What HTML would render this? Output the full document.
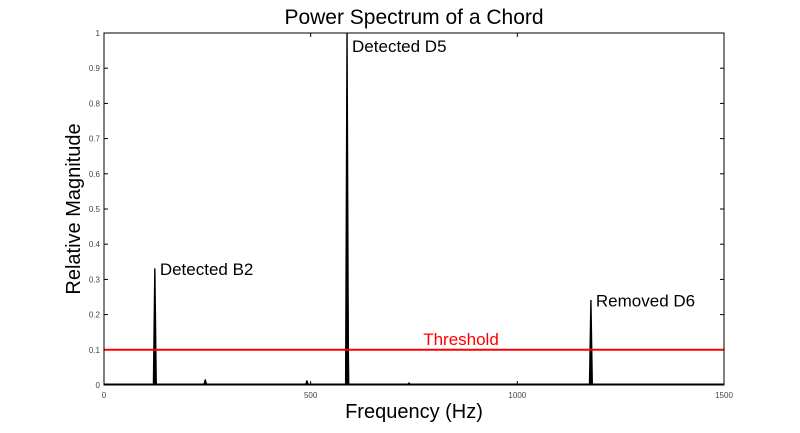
<!DOCTYPE html>
<html><head><meta charset="utf-8"><style>
html,body{margin:0;padding:0;background:#fff;}
svg{display:block;font-family:"Liberation Sans",Arial,sans-serif;}
</style></head><body>
<svg id="chart" width="800" height="433">
<text x="414" y="24" text-anchor="middle" font-size="21">Power Spectrum of a Chord</text>
<text x="414" y="418" text-anchor="middle" font-size="20">Frequency (Hz)</text>
<text transform="translate(80,209) rotate(-90)" text-anchor="middle" font-size="20">Relative Magnitude</text>
<g id="ticks"></g>
<g id="marks"></g>
<rect x="104" y="33" width="620" height="352" fill="none" stroke="#000" stroke-width="1"/>
</svg>
<script>
const xTicks = [0, 500, 1000, 1500];
const yTicks = [0, 0.1, 0.2, 0.3, 0.4, 0.5, 0.6, 0.7, 0.8, 0.9, 1];
const peakFreqs = [123, 123.5, 245, 491, 588, 588.5, 738, 1178];
const peakMags = [0.33, 0.04, 0.015, 0.012, 1.0, 0.4, 0.006, 0.24];
const threshold = 0.1;
const annotations = ["Detected B2", "Detected D5", "Removed D6"];
const annotationFreqs = [123, 588, 1178];
const annotationMags = [0.33, 1.0, 0.24];

const NS = "http://www.w3.org/2000/svg";
const X0 = 104, X1 = 724, Y0 = 385, Y1 = 33;
const xs = f => X0 + (f / 1500) * (X1 - X0);
const ys = v => Y0 - v * (Y0 - Y1);
const ticks = document.getElementById('ticks');
const marks = document.getElementById('marks');
function mk(tag, attrs, parent) {
  const e = document.createElementNS(NS, tag);
  for (const k in attrs) e.setAttribute(k, attrs[k]);
  parent.appendChild(e);
  return e;
}
xTicks.forEach(t => {
  const x = xs(t);
  const l = mk('line', {x1: x, x2: x, y1: Y0, y2: Y0 - 4, stroke: '#000'}, ticks);
  
  
  const l2 = mk('line', {x1: x, x2: x, y1: Y1, y2: Y1 + 4, stroke: '#000'}, ticks);
  
  
  const tx = mk('text', {x: x, y: Y0 + 13, 'text-anchor': 'middle', 'font-size': 8, fill: '#444'}, ticks);
  tx.textContent = t;
  
  
});
yTicks.forEach(t => {
  const y = ys(t);
  const l = mk('line', {x1: X0, x2: X0 + 4, y1: y, y2: y, stroke: '#000'}, ticks);
  
  
  const l2 = mk('line', {x1: X1, x2: X1 - 4, y1: y, y2: y, stroke: '#000'}, ticks);
  
  
  const tx = mk('text', {x: X0 - 4, y: y + 3, 'text-anchor': 'end', 'font-size': 8, fill: '#444'}, ticks);
  tx.textContent = t;
  
  
});
const base = mk('line', {x1: X0, x2: X1, y1: Y0 - 0.5, y2: Y0 - 0.5, stroke: '#000', 'stroke-width': 2}, marks);


peakFreqs.forEach((f, i) => {
  const x = xs(f);
  const p = mk('path', {d: `M${x-1.6},${Y0} L${x-0.2},${ys(peakMags[i])} L${x+0.2},${ys(peakMags[i])} L${x+1.6},${Y0} Z`, fill: '#000', stroke: '#000', 'stroke-width': 1}, marks);
  
  
});
const th = mk('line', {x1: X0, x2: X1, y1: ys(threshold), y2: ys(threshold), stroke: '#f00', 'stroke-width': 2}, marks);


const tl = mk('text', {x: 461, y: ys(threshold) - 5, 'text-anchor': 'middle', 'font-size': 17, fill: '#f00'}, marks);
tl.textContent = 'Threshold';


annotations.forEach((a, i) => {
  const t = mk('text', {x: xs(annotationFreqs[i]) + 5, y: Math.max(ys(annotationMags[i]) + 6, 52), 'font-size': 17, fill: '#000'}, marks);
  t.textContent = a;
  
  
});
</script>
</body></html>
